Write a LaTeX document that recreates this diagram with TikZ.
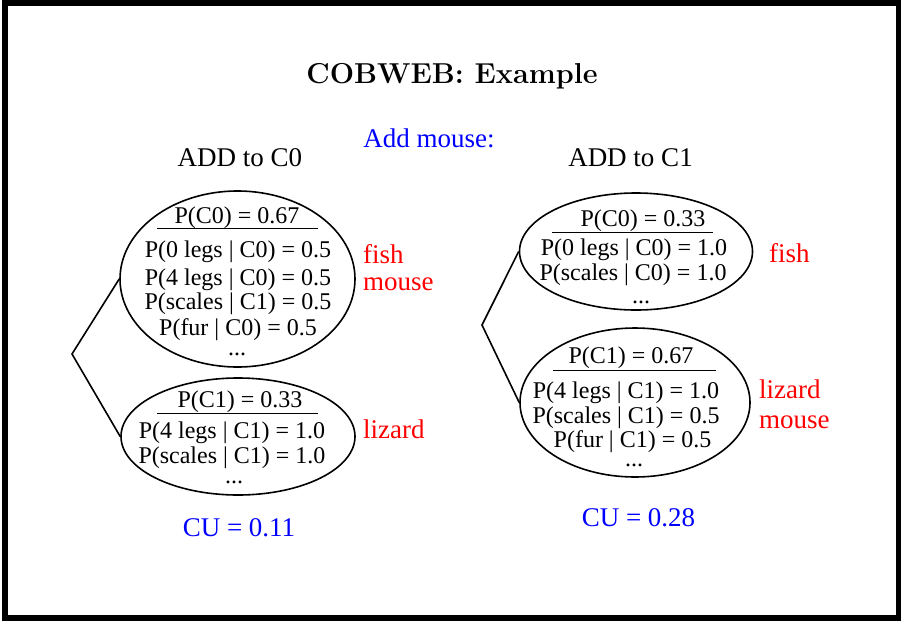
\documentclass[tikz,border=0pt]{standalone}
\usepackage{fontspec}
\usetikzlibrary{shapes.geometric}
\newfontfamily\timesfont{Liberation Serif}
\definecolor{labred}{RGB}{255,0,0}
\definecolor{labblue}{RGB}{0,0,255}

\begin{document}
\begin{tikzpicture}[x=1pt, y=-1pt,
  clus/.style={draw, ellipse, line width=1.6pt, inner sep=0pt},
  prob/.style={anchor=base, inner sep=0pt, text height=15pt, text depth=4pt, font=\timesfont\fontsize{24}{26}\selectfont},
  dots/.style={prob, text height=4pt},
  animal/.style={anchor=base west, inner sep=0pt, text=labred, font=\timesfont\fontsize{27}{30}\selectfont},
  note/.style={anchor=base, inner sep=0pt, font=\timesfont\fontsize{27}{30}\selectfont},
  bar/.style={line width=1pt},
  link/.style={line width=1.6pt}]
\useasboundingbox (0,0) rectangle (901,621);
\draw[line width=6pt] (5,2.5) rectangle (898.5,617.5);

\node[anchor=base, inner sep=0pt, font=\fontsize{28.8}{34}\selectfont\bfseries] (title) at (452,83) {COBWEB: Example};
\node[note, text=labblue] (add) at (429,147) {Add mouse:};
\node[note] (h0) at (240,166) {ADD to C0};
\node[note] (h1) at (630.5,166) {ADD to C1};

\node[clus, minimum width=235pt, minimum height=176pt] (c00) at (237.5,279) {};
\node[clus, minimum width=234pt, minimum height=117pt] (c01) at (238,436.5) {};
\node[clus, minimum width=233pt, minimum height=117pt] (c10) at (636,251.5) {};
\node[clus, minimum width=230pt, minimum height=149pt] (c11) at (635,402.5) {};

\coordinate (j0) at (72,354);
\coordinate (j1) at (482,325);
\draw[link] (c00.west) -- (j0) -- (c01.west);
\draw[link] (c10.west) -- (j1) -- (c11.west);

\node[prob] (a0) at (237,223) {P(C0) = 0.67};
\draw[bar] (157,228) -- (318,228);
\node[prob] (a1) at (238,257) {P(0 legs | C0) = 0.5};
\node[prob] (a2) at (238,285) {P(4 legs | C0) = 0.5};
\node[prob] (a3) at (238,309) {P(scales | C1) = 0.5};
\node[prob] (a4) at (238,335) {P(fur | C0) = 0.5};
\node[dots] (a5) at (237,355) {...};

\node[prob] (b0) at (240,407) {P(C1) = 0.33};
\draw[bar] (157,413) -- (318,413);
\node[prob] (b1) at (232,438) {P(4 legs | C1) = 1.0};
\node[prob] (b2) at (232,463) {P(scales | C1) = 1.0};
\node[dots] (b3) at (234,483) {...};

\node[prob] (d0) at (643,226) {P(C0) = 0.33};
\draw[bar] (552,232) -- (713,232);
\node[prob] (d1) at (634,255) {P(0 legs | C0) = 1.0};
\node[prob] (d2) at (633,280) {P(scales | C0) = 1.0};
\node[dots] (d3) at (641,303) {...};

\node[prob] (e0) at (631,363) {P(C1) = 0.67};
\draw[bar] (553,370) -- (716,370);
\node[prob] (e1) at (626,398) {P(4 legs | C1) = 1.0};
\node[prob] (e2) at (626,423) {P(scales | C1) = 0.5};
\node[prob] (e3) at (632.5,447) {P(fur | C1) = 0.5};
\node[dots] (e4) at (634,466) {...};

\node[animal] (fish0) at (363,263) {fish};
\node[animal] (mouse0) at (363,290) {mouse};
\node[animal] (lizard0) at (363,438) {lizard};
\node[animal] (fish1) at (769,262) {fish};
\node[animal] (lizard1) at (759,398) {lizard};
\node[animal] (mouse1) at (759,428) {mouse};

\node[note, text=labblue] (cu0) at (239,536) {CU = 0.11};
\node[note, text=labblue] (cu1) at (638.5,526) {CU = 0.28};
\end{tikzpicture}
\end{document}
